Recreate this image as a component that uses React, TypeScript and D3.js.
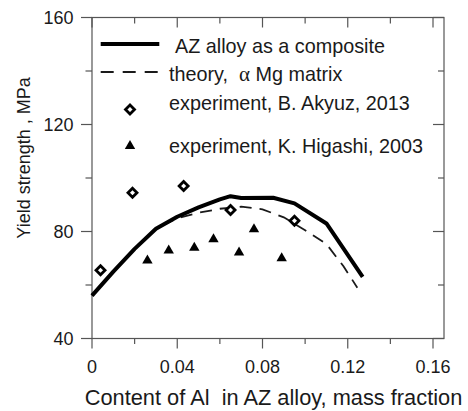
import React from "react";
import * as d3 from "d3";

// Yield strength of AZ alloys versus Al content
const compositeX = [0, 0.01, 0.02, 0.03, 0.04, 0.05, 0.06, 0.065, 0.07, 0.085, 0.095, 0.11, 0.127];
const compositeY = [56, 65, 73.5, 81, 85.5, 89, 92, 93.2, 92.5, 92.6, 90.5, 83, 63];

const theoryX = [0, 0.01, 0.02, 0.03, 0.04, 0.05, 0.06, 0.07, 0.08, 0.09, 0.1, 0.11, 0.118, 0.1245];
const theoryY = [56, 65, 73.5, 81, 85, 87, 88.5, 89.3, 88.3, 85.3, 80.5, 75.3, 67, 59];

const akyuzX = [0.004, 0.019, 0.043, 0.065, 0.095];
const akyuzY = [65.5, 94.5, 97, 88, 84];

const higashiX = [0.026, 0.036, 0.048, 0.057, 0.069, 0.076, 0.089];
const higashiY = [69.5, 73.3, 74.3, 77.5, 72.5, 81.2, 70.4];

const xMajorTicks = [0, 0.04, 0.08, 0.12, 0.16];
const xMinorTicks = [0.02, 0.06, 0.1, 0.14];
const yMajorTicks = [40, 80, 120, 160];
const yMinorTicks = [60, 100, 140];

const legendLabels = [
  "AZ alloy as a composite",
  "theory,  ",
  "\u03b1",
  " Mg matrix",
  "experiment, B. Akyuz, 2013",
  "experiment, K. Higashi, 2003",
];

const W = 468;
const H = 411;
const left = 92;
const right = 444;
const top = 17.5;
const bottom = 338.5;
const font = "'Liberation Sans', Arial, Helvetica, sans-serif";
const serif = "'Liberation Serif', 'Times New Roman', serif";
const ink = "#1a1a1a";
const axisInk = "#555";

const x = d3.scaleLinear().domain([0, 0.16]).range([left, left + 341]);
const y = d3.scaleLinear().domain([40, 160]).range([bottom, top]);

const line = d3
  .line<[number, number]>()
  .x((d) => x(d[0]))
  .y((d) => y(d[1]));

const diamond = (r: number) => `M0,${-r}L${r},0L0,${r}L${-r},0Z`;
const triangle = "M0,-5L5.2,4L-5.2,4Z";

export default function App() {
  const composite = compositeX.map((v, i) => [v, compositeY[i]] as [number, number]);
  const theory = theoryX.map((v, i) => [v, theoryY[i]] as [number, number]);

  return (
    <svg
      width={W}
      height={H}
      style={{ position: "absolute", left: 0, top: 0, background: "#fff" }}
      fontFamily={font}
    >
      <rect x={0} y={0} width={W} height={H} fill="#fff" />

      {/* frame */}
      <rect
        x={left}
        y={top}
        width={right - left}
        height={bottom - top}
        fill="none"
        stroke={axisInk}
        strokeWidth={1.2}
      />

      {/* x ticks: outward on bottom, inward on top */}
      {xMajorTicks.map((t) => (
        <g key={"xM" + t}>
          <line x1={x(t)} x2={x(t)} y1={bottom} y2={bottom + 10} stroke={axisInk} strokeWidth={1.2} />
          <line x1={x(t)} x2={x(t)} y1={top} y2={top + 10} stroke={axisInk} strokeWidth={1.2} />
          <text x={x(t)} y={373} textAnchor="middle" fontSize={18} fill={ink}>
            {t === 0 ? "0" : t.toFixed(2)}
          </text>
        </g>
      ))}
      {xMinorTicks.map((t) => (
        <g key={"xm" + t}>
          <line x1={x(t)} x2={x(t)} y1={bottom} y2={bottom + 5.5} stroke={axisInk} strokeWidth={1.2} />
          <line x1={x(t)} x2={x(t)} y1={top} y2={top + 6} stroke={axisInk} strokeWidth={1.2} />
        </g>
      ))}

      {/* y ticks: outward on left, inward on right */}
      {yMajorTicks.map((t) => (
        <g key={"yM" + t}>
          <line x1={left - 11} x2={left} y1={y(t)} y2={y(t)} stroke={axisInk} strokeWidth={1.2} />
          <line x1={right - 11} x2={right} y1={y(t)} y2={y(t)} stroke={axisInk} strokeWidth={1.2} />
          <text x={73.5} y={y(t) + 6.5} textAnchor="end" fontSize={18} fill={ink}>
            {t}
          </text>
        </g>
      ))}
      {yMinorTicks.map((t) => (
        <g key={"ym" + t}>
          <line x1={left - 6.5} x2={left} y1={y(t)} y2={y(t)} stroke={axisInk} strokeWidth={1.2} />
          <line x1={right - 6} x2={right} y1={y(t)} y2={y(t)} stroke={axisInk} strokeWidth={1.2} />
        </g>
      ))}

      {/* axis titles */}
      <text x={273.5} y={405} textAnchor="middle" fontSize={21.8} fill={ink} style={{ whiteSpace: "pre" }}>
        {"Content of Al  in AZ alloy, mass fraction"}
      </text>
      <text
        transform={`translate(29.5,158) rotate(-90)`}
        textAnchor="middle"
        fontSize={18}
        fill={ink}
      >
        Yield strength , MPa
      </text>

      {/* curves */}
      <path d={line(theory) || ""} fill="none" stroke={ink} strokeWidth={1.8} strokeDasharray="12,8" />
      <path d={line(composite) || ""} fill="none" stroke="#000" strokeWidth={4} strokeLinejoin="round" />

      {/* experimental points */}
      {akyuzX.map((v, i) => (
        <path
          key={"a" + i}
          d={diamond(4.5)}
          transform={`translate(${x(v)},${y(akyuzY[i])})`}
          fill="#fff"
          stroke="#000"
          strokeWidth={2.8}
        />
      ))}
      {higashiX.map((v, i) => (
        <path key={"h" + i} d={triangle} transform={`translate(${x(v)},${y(higashiY[i])})`} fill="#000" />
      ))}

      {/* legend */}
      <line x1={100.7} x2={159.3} y1={44} y2={44} stroke="#000" strokeWidth={4} />
      <text x={175} y={52.5} fontSize={19.8} fill={ink}>
        {legendLabels[0]}
      </text>
      <line x1={100.7} x2={159.3} y1={72} y2={72} stroke={ink} strokeWidth={1.8} strokeDasharray="13,9" />
      <text x={169} y={81} fontSize={19.8} fill={ink} style={{ whiteSpace: "pre" }}>
        {legendLabels[1]}
        <tspan fontFamily={serif} fontSize={21}>
          {legendLabels[2]}
        </tspan>
        {legendLabels[3]}
      </text>
      <path d={diamond(4.5)} transform="translate(130,109.5)" fill="#fff" stroke="#000" strokeWidth={2.8} />
      <text x={169} y={110} fontSize={19.8} fill={ink}>
        {legendLabels[4]}
      </text>
      <path d={triangle} transform="translate(130,145)" fill="#000" />
      <text x={169} y={152.5} fontSize={19.8} fill={ink}>
        {legendLabels[5]}
      </text>
    </svg>
  );
}
